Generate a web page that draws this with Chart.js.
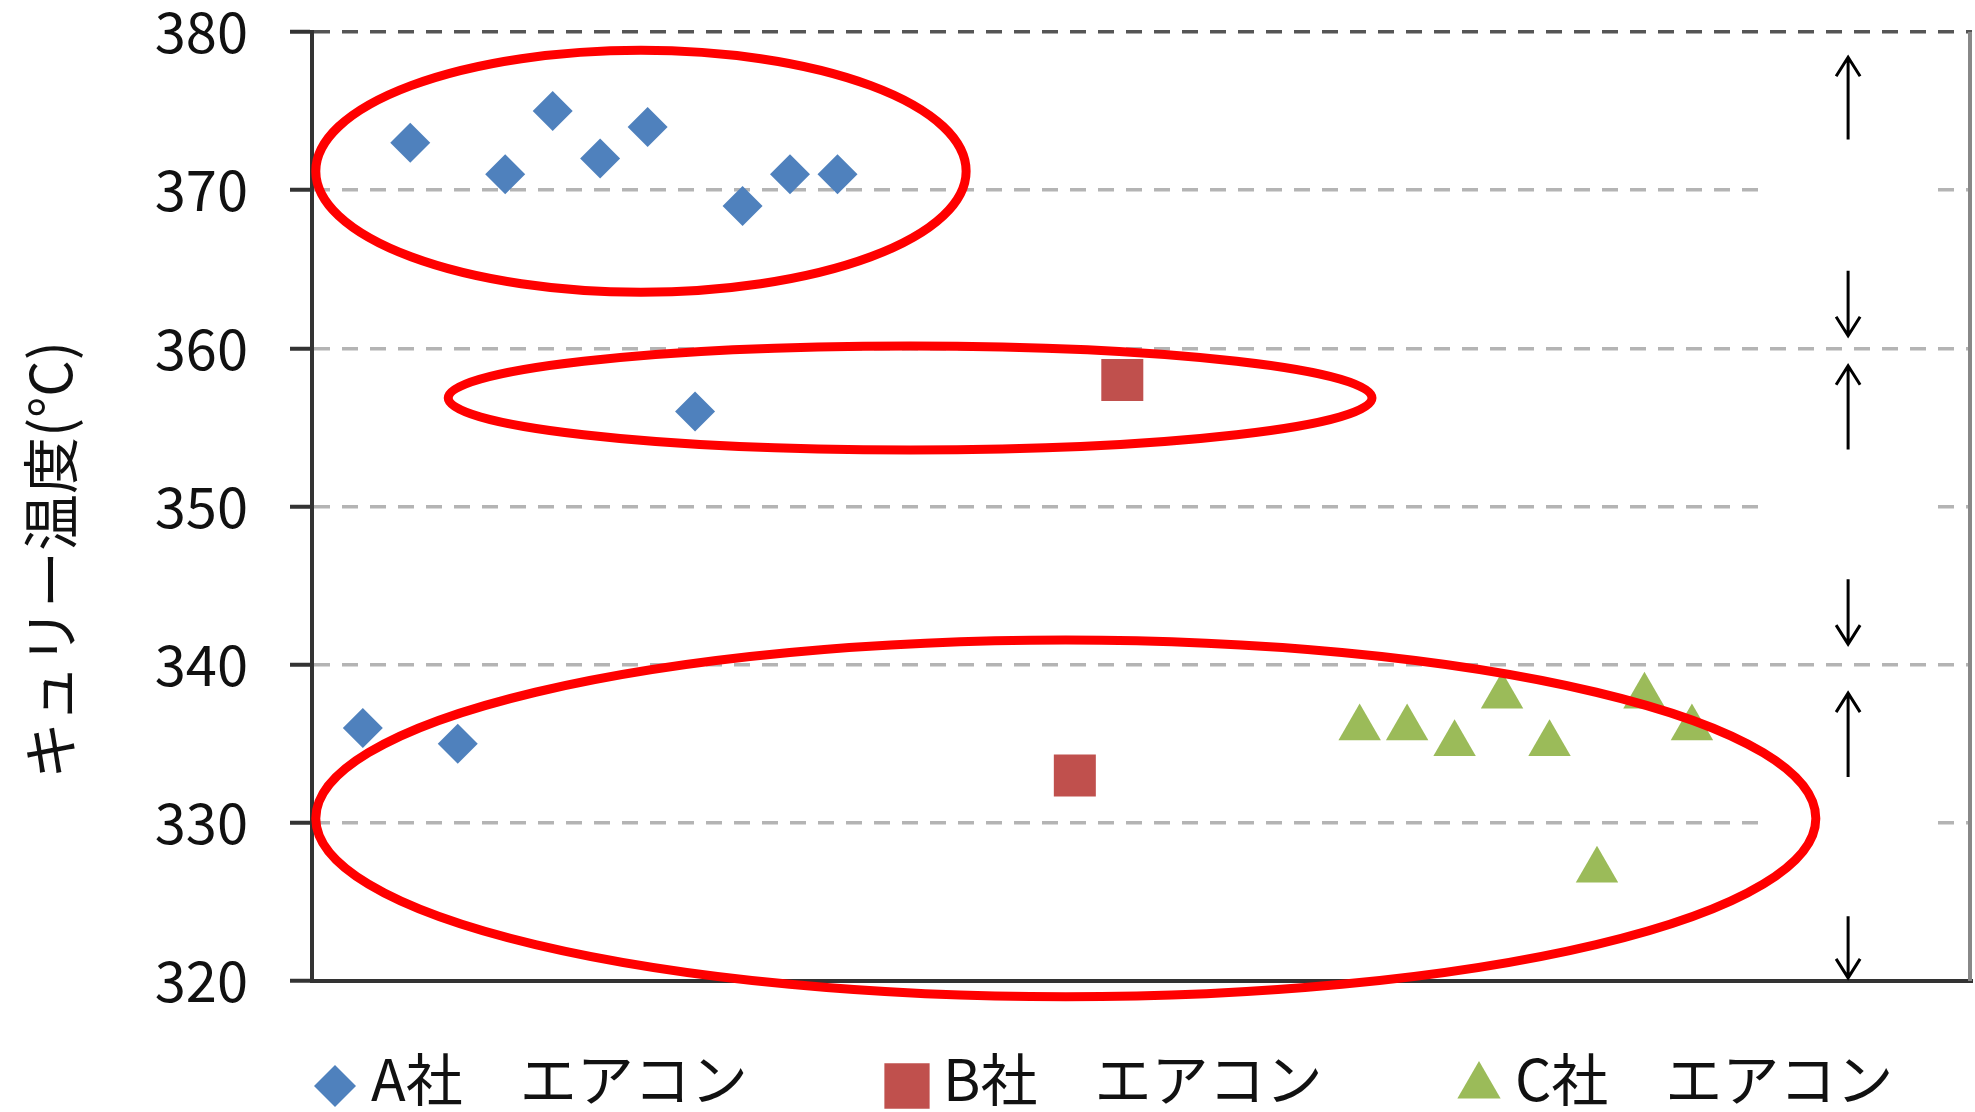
<!DOCTYPE html>
<html>
<head>
<meta charset="utf-8">
<script src="https://cdn.jsdelivr.net/npm/chart.js@4.4.1/dist/chart.umd.min.js"></script>
<style>
  html, body { margin: 0; padding: 0; background: #fff; }
  #wrap { width: 1975px; height: 1112px; }
</style>
</head>
<body>
<div id="wrap"><canvas id="curie" width="1975" height="1112"></canvas></div>
<script>
/* Curie temperature scatter */

const FONT = '"Noto Sans CJK JP", "Noto Sans", sans-serif';

const seriesNames = ['A社　エアコン', 'B社　エアコン', 'C社　エアコン'];
const yTitle = 'キュリー温度(°C)';

const aX = [1, 2, 3, 4, 5, 6, 7, 8, 9, 10, 11];
const aY = [336, 373, 335, 371, 375, 372, 374, 356, 369, 371, 371];
const bX = [16, 17];
const bY = [333, 358];
const cX = [22, 23, 24, 25, 26, 27, 28, 29];
const cY = [336, 336, 335, 338, 335, 327, 338, 336];

const yTicks = [320, 330, 340, 350, 360, 370, 380];

// red ellipses, data units: [cx, cy, rx, ry]
const ellipses = [
  [6.86, 371.2, 6.85, 7.65],
  [12.53, 356.86, 9.73, 3.29],
  [15.81, 330.28, 15.8, 11.28]
];
// arrows at the right, [tail, tip] in y units
const arrowX = 32.29;
const arrows = [
  [373.2, 378.4], [364.9, 360.8],
  [353.6, 358.9], [345.4, 341.3],
  [332.9, 338.2], [324.1, 320.2]
];
// gridlines hidden behind the arrow text boxes
const maskedGrid = [370, 350, 330];

const colors = ['#4F81BD', '#C0504D', '#9BBB59'];
const styles = ['rectRot', 'rect', 'triangle'];

function pts(xs, ys) {
  return xs.map((x, i) => ({ x: x, y: ys[i] }));
}

const overlay = {
  id: 'overlay',
  beforeDatasetsDraw(chart) {
    const { ctx, chartArea: a } = chart;
    const x = chart.scales.x, y = chart.scales.y;
    ctx.save();
    ctx.fillStyle = '#fff';
    const x0 = x.getPixelForValue(30.58), x1 = x.getPixelForValue(33.99);
    maskedGrid.forEach(v => {
      const py = y.getPixelForValue(v);
      ctx.fillRect(x0, py - 6, x1 - x0, 12);
    });
    ctx.strokeStyle = '#888';
    ctx.lineWidth = 4;
    ctx.beginPath();
    ctx.moveTo(a.right - 2, a.top);
    ctx.lineTo(a.right - 2, a.bottom);
    ctx.stroke();
    ctx.restore();
  },
  afterDatasetsDraw(chart) {
    const ctx = chart.ctx;
    const x = chart.scales.x, y = chart.scales.y;
    ctx.save();
    ctx.strokeStyle = '#FF0000';
    ctx.lineWidth = 9;
    ellipses.forEach(e => {
      const cx = x.getPixelForValue(e[0]);
      const cy = y.getPixelForValue(e[1]);
      const rx = x.getPixelForValue(e[0] + e[2]) - cx;
      const ry = cy - y.getPixelForValue(e[1] + e[3]);
      ctx.beginPath();
      ctx.ellipse(cx, cy, rx, ry, 0, 0, Math.PI * 2);
      ctx.stroke();
    });
    ctx.strokeStyle = '#000';
    ctx.lineWidth = 3;
    const ax = x.getPixelForValue(arrowX);
    arrows.forEach(r => {
      const t = y.getPixelForValue(r[0]);
      const h = y.getPixelForValue(r[1]);
      const d = h < t ? 1 : -1;
      ctx.beginPath();
      ctx.moveTo(ax, t);
      ctx.lineTo(ax, h);
      ctx.moveTo(ax - 12, h + d * 19);
      ctx.lineTo(ax, h);
      ctx.lineTo(ax + 12, h + d * 19);
      ctx.stroke();
    });
    ctx.restore();
  },
  afterDraw(chart) {
    const ctx = chart.ctx;
    ctx.save();
    // y axis title
    ctx.translate(50, 560);
    ctx.rotate(-Math.PI / 2);
    ctx.font = '57px ' + FONT;
    ctx.fillStyle = '#111';
    ctx.textAlign = 'center';
    ctx.textBaseline = 'middle';
    ctx.fillText(yTitle, 0, 0);
    ctx.restore();

    // legend
    const radii = [21, 32, 25];
    ctx.save();
    ctx.font = '57px ' + FONT;
    ctx.textBaseline = 'alphabetic';
    ctx.textAlign = 'left';
    chart.data.datasets.forEach((ds, i) => {
      const mx = 335 + i * 572;
      ctx.fillStyle = ds.backgroundColor;
      Chart.helpers.drawPoint(ctx, { pointStyle: ds.pointStyle, radius: radii[i], rotation: 0, borderWidth: 0 }, mx, 1086);
      ctx.fillStyle = '#111';
      ctx.fillText(ds.label, mx + 36, 1101);
    });
    ctx.restore();
  }
};

new Chart(document.getElementById('curie'), {
  type: 'scatter',
  data: {
    datasets: [
      { label: seriesNames[0], data: pts(aX, aY), pointStyle: styles[0], pointRadius: 20, backgroundColor: colors[0], borderWidth: 0 },
      { label: seriesNames[1], data: pts(bX, bY), pointStyle: styles[1], pointRadius: 29.7, backgroundColor: colors[1], borderWidth: 0 },
      { label: seriesNames[2], data: pts(cX, cY), pointStyle: styles[2], pointRadius: 24.5, backgroundColor: colors[2], borderWidth: 0 }
    ]
  },
  options: {
    responsive: false,
    animation: false,
    layout: { autoPadding: false, padding: { top: 32, right: 3, left: 0, bottom: 0 } },
    plugins: {
      legend: { display: false },
      tooltip: { enabled: false }
    },
    scales: {
      x: {
        type: 'linear',
        min: -0.07,
        max: 34.9,
        ticks: { display: false },
        grid: { display: false },
        border: { display: true, color: '#333', width: 4 },
        afterFit(s) { s.height = 131; s.paddingLeft = 0; s.paddingRight = 0; }
      },
      y: {
        min: 320,
        max: 380,
        afterBuildTicks(s) { s.ticks = yTicks.map(v => ({ value: v })); },
        ticks: { font: { family: FONT, size: 56 }, color: '#111', padding: 42 },
        grid: {
          color: c => (c.tick && c.tick.value === 380) ? '#555' : '#b4b4b4',
          lineWidth: 3.5,
          tickLength: 22,
          tickColor: '#333',
          tickWidth: 4
        },
        border: { display: true, color: '#333', width: 4, dash: [16, 12] },
        afterFit(s) { s.width = 312; s.paddingTop = 0; s.paddingBottom = 0; }
      }
    }
  },
  plugins: [overlay]
});
</script>
</body>
</html>
